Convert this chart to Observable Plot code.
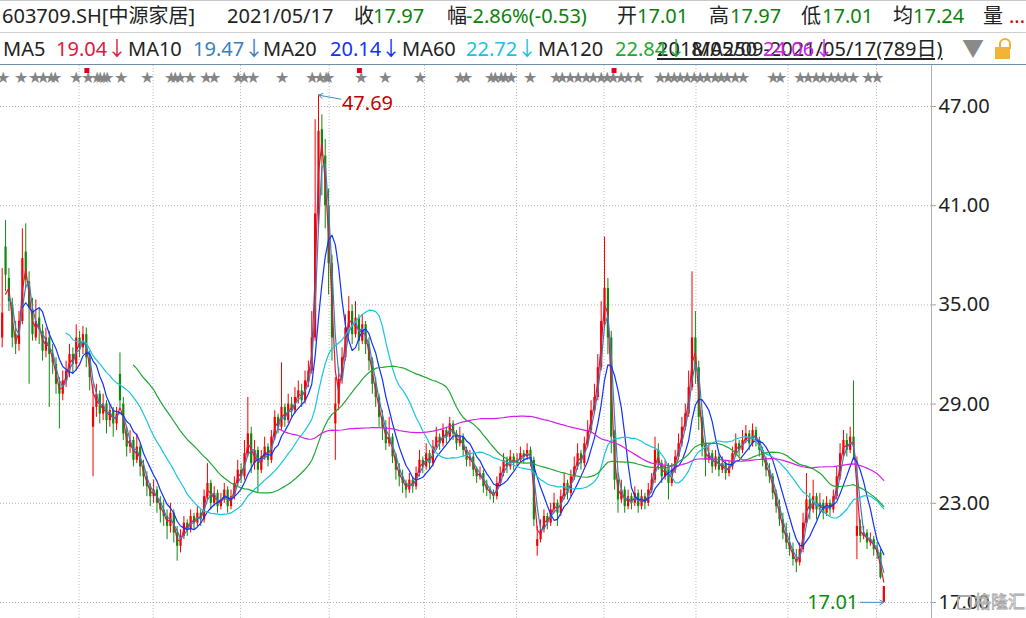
<!DOCTYPE html>
<html><head><meta charset="utf-8">
<script src="https://cdn.jsdelivr.net/npm/d3@7"></script>
<script src="https://cdn.jsdelivr.net/npm/@observablehq/plot@0.6"></script>
<style>
body{margin:0;background:#fff;width:1026px;height:618px;overflow:hidden;position:relative;font-family:"Noto Sans","Noto Sans CJK SC",sans-serif;}
.t{position:absolute;white-space:nowrap;font-size:20px;line-height:20px;color:#222;}
.hl{position:absolute;left:0;width:1026px;height:1px;}
#chart{position:absolute;left:0;top:65px;}
#wm{position:absolute;left:957px;top:592px;font-size:17px;line-height:18px;color:rgba(255,255,255,0.45);-webkit-text-stroke:0.8px #a8a8a8;font-family:"Noto Sans CJK SC",sans-serif;white-space:nowrap;}
#wm .ic{display:inline-block;width:11px;height:11px;border:2px solid #aaa;border-radius:3px;vertical-align:-2px;margin-right:2px;}
</style></head><body>
<div id="hdr"></div>
<div id="chart"></div>
<div id="wm"><span class="ic"></span>格隆汇</div>
<script>
// ---------- data (3-trading-day bars, 2018/05/09 – 2021/05/17) ----------
const opens = [
33.0,38.5,36.6,35.0,33.2,32.6,34.0,38.2,36.4,34.6,
33.0,34.2,33.4,32.2,33.0,32.0,31.4,30.2,29.6,30.4,
31.0,32.0,31.4,33.0,32.4,33.2,31.8,27.6,28.8,29.6,
28.4,29.0,28.0,28.6,27.8,30.8,29.0,27.2,26.4,26.8,
25.6,26.4,25.2,24.6,24.0,23.4,23.8,23.0,22.6,22.2,
21.6,22.4,21.2,20.4,21.0,21.8,21.4,22.2,21.8,22.4,
22.0,23.4,24.2,23.0,23.6,22.8,23.2,23.8,22.8,23.4,
24.2,25.0,24.6,26.0,27.2,25.4,26.2,25.0,25.8,26.4,
25.6,27.0,28.2,27.6,28.8,28.0,29.0,28.6,29.4,29.8,
29.2,30.4,31.0,33.0,40.5,45.6,44.0,41.0,37.5,27.8,
29.0,30.5,31.8,33.6,34.6,33.2,34.2,32.8,33.8,32.6,
31.6,30.2,29.4,28.2,27.6,26.6,27.0,25.8,25.0,24.6,
24.2,23.8,24.4,24.0,24.8,25.6,25.2,26.0,25.4,26.4,
27.0,26.6,27.4,27.0,27.8,27.2,26.6,27.0,26.2,25.6,
25.8,25.0,24.6,24.8,24.0,23.8,23.6,23.4,24.2,24.8,
25.6,25.2,25.8,25.4,25.6,26.0,25.8,26.2,25.6,20.4,
20.8,21.4,22.2,21.8,22.6,23.0,22.4,23.4,24.2,23.6,
24.6,25.2,26.0,25.4,26.6,27.4,28.6,29.4,31.2,34.0,
36.0,33.0,27.0,24.4,23.2,23.8,22.8,23.4,23.0,23.6,
22.8,23.4,23.0,23.8,24.4,26.2,25.4,24.6,25.2,24.2,
25.0,25.8,26.6,27.6,28.4,30.0,33.0,31.2,28.2,26.4,
25.6,26.0,25.2,25.8,25.0,25.4,24.8,25.2,26.0,26.6,
26.2,26.8,27.2,26.6,27.4,26.8,26.2,25.6,25.0,24.6,
23.6,22.8,22.0,21.2,20.6,20.2,19.6,19.4,20.2,21.8,
23.2,22.6,23.4,22.6,23.0,22.4,23.0,22.6,23.4,24.6,
26.0,26.8,26.2,27.0,21.0,21.6,21.0,21.2,20.6,20.8,
20.2,20.0,17.01];
const highs = [
37.2,40.1,37.2,35.4,34.0,34.6,39.6,39.9,37.0,35.4,
35.3,34.8,33.8,33.6,33.4,32.6,31.8,30.6,31.0,31.6,
32.6,32.4,33.8,33.4,33.7,33.6,32.2,30.2,30.2,29.8,
29.6,29.2,29.0,28.8,28.8,32.1,29.4,27.6,27.4,27.0,
27.2,26.6,25.6,24.9,24.2,24.4,24.0,23.4,23.2,22.6,
23.0,22.6,21.6,21.4,22.2,22.0,22.6,22.4,22.8,22.6,
23.8,25.4,24.4,24.0,23.8,23.6,24.2,24.0,23.8,24.6,
25.6,25.4,26.8,29.4,27.6,26.8,26.4,26.2,27.0,26.6,
27.4,28.6,28.4,31.5,29.0,29.6,29.4,30.0,30.4,30.2,
31.0,31.6,34.6,46.2,47.69,46.5,45.0,42.0,38.0,30.6,
31.2,32.4,34.4,35.5,35.0,35.2,34.4,34.4,34.0,33.0,
31.8,30.6,29.6,28.6,28.0,28.2,27.2,26.0,25.4,25.0,
24.4,24.8,24.6,25.2,26.2,25.8,26.6,26.2,26.8,27.6,
27.2,27.8,27.6,28.2,28.0,27.4,27.6,27.2,26.4,26.2,
26.0,25.2,25.2,25.0,24.4,24.0,23.8,24.6,25.2,26.0,
25.8,26.2,26.0,26.0,26.4,26.2,26.6,26.4,25.8,21.6,
22.0,22.6,22.4,23.0,23.6,23.2,23.8,24.8,24.4,25.0,
25.8,26.6,26.2,27.0,28.0,29.2,30.2,32.0,35.2,39.1,
36.6,33.4,27.4,24.8,24.4,24.0,23.8,23.6,24.0,23.8,
23.8,23.6,24.2,24.8,27.0,26.6,25.6,25.6,25.4,25.4,
26.2,27.2,28.2,29.0,31.0,37.0,34.6,31.6,28.6,26.8,
26.6,26.2,26.2,26.0,25.8,25.6,25.6,26.4,27.2,26.8,
27.4,27.7,27.4,27.8,27.6,27.0,26.4,25.8,25.4,24.8,
23.8,23.2,22.4,21.8,21.2,20.6,20.2,20.6,22.4,24.8,
23.6,24.4,23.6,23.6,23.2,23.4,23.2,23.8,25.2,26.6,
27.4,27.2,27.6,30.4,25.8,22.0,21.6,21.4,21.2,21.0,
20.6,20.2,17.97];
const lows = [
32.4,35.8,34.6,32.4,32.0,32.2,33.8,36.0,30.2,32.8,
32.8,32.6,31.6,31.8,28.8,30.8,29.6,27.5,29.2,30.0,
30.6,30.8,31.0,31.8,32.0,31.2,29.8,24.6,28.2,27.8,
28.0,27.2,27.6,27.0,27.4,28.8,26.8,25.8,26.0,25.2,
25.4,24.6,24.0,23.4,22.8,23.0,22.4,21.8,21.6,20.8,
21.2,20.6,19.5,20.0,20.8,21.0,21.2,21.4,21.6,21.6,
21.8,23.2,22.6,22.8,22.4,22.6,23.0,22.4,22.6,23.2,
24.0,24.2,24.4,25.8,24.8,25.0,23.6,24.8,25.6,25.2,
25.4,26.8,27.2,27.4,27.6,27.8,28.2,28.4,29.0,28.8,
29.0,30.0,30.8,32.8,39.8,41.6,39.6,35.6,31.6,25.6,
28.6,30.2,31.6,33.2,32.6,33.0,32.2,32.6,32.0,31.0,
29.6,28.8,27.6,26.8,26.2,26.4,25.4,24.4,24.0,23.6,
23.3,23.6,23.6,23.8,24.6,24.8,25.0,25.0,25.2,26.2,
26.2,26.4,26.6,26.8,26.8,26.2,26.4,25.8,25.2,25.2,
24.6,24.2,24.4,23.6,23.4,23.2,23.0,23.2,24.0,24.6,
24.8,25.0,25.0,25.2,25.4,25.4,25.6,25.2,21.6,19.8,
20.6,21.2,21.4,21.6,22.4,21.6,22.2,23.2,23.2,23.4,
24.4,25.0,25.0,25.2,26.4,27.2,28.4,29.2,31.0,33.6,
32.0,26.0,23.8,22.4,23.0,22.4,22.6,22.6,22.8,22.4,
22.6,22.6,22.8,23.6,24.2,25.0,24.2,24.4,23.2,24.0,
24.8,25.6,26.4,27.4,28.2,29.8,30.2,27.4,25.8,24.6,
25.4,24.8,25.0,24.6,24.8,24.4,24.6,25.0,25.8,25.8,
26.0,26.6,26.2,26.4,26.4,25.8,25.2,24.6,24.2,23.2,
22.4,21.6,20.8,20.2,19.8,19.2,18.8,19.2,20.0,21.6,
22.0,22.4,22.0,22.4,22.0,22.2,22.2,22.4,23.2,24.4,
25.8,25.8,26.0,25.6,19.6,20.6,20.8,20.2,20.4,19.8,
19.6,18.4,17.01];
const closes = [
34.5,36.8,35.2,33.0,32.6,34.0,37.8,36.5,34.8,33.2,
34.0,33.5,32.2,33.0,32.0,31.5,30.2,29.6,30.4,31.0,
32.0,31.4,33.0,32.4,33.2,31.8,30.6,28.8,29.6,28.4,
29.0,28.0,28.6,27.8,28.4,29.2,27.2,26.4,26.8,25.6,
26.4,25.2,24.6,24.0,23.4,23.8,23.0,22.6,22.2,21.6,
22.4,21.2,20.4,21.0,21.8,21.4,22.2,21.8,22.4,22.0,
23.4,24.2,23.0,23.6,22.8,23.2,23.8,22.8,23.4,24.2,
25.0,24.6,26.0,27.2,25.4,26.2,25.0,25.8,26.4,25.6,
27.0,28.2,27.6,28.8,28.0,29.0,28.6,29.4,29.8,29.2,
30.4,31.0,33.0,40.5,45.5,44.0,41.0,37.5,33.0,29.0,
30.5,31.8,33.6,34.6,33.2,34.2,32.8,33.8,32.6,31.6,
30.2,29.4,28.2,27.6,26.6,27.0,25.8,25.0,24.6,24.2,
23.8,24.4,24.0,24.8,25.6,25.2,26.0,25.4,26.4,27.0,
26.6,27.4,27.0,27.8,27.2,26.6,27.0,26.2,25.6,25.8,
25.0,24.6,24.8,24.0,23.8,23.6,23.4,24.2,24.8,25.6,
25.2,25.8,25.4,25.6,26.0,25.8,26.2,25.6,22.0,20.8,
21.4,22.2,21.8,22.6,23.0,22.4,23.4,24.2,23.6,24.6,
25.2,26.0,25.4,26.6,27.4,28.6,29.4,31.2,34.0,36.0,
33.0,27.0,24.4,23.2,23.8,22.8,23.4,23.0,23.6,22.8,
23.4,23.0,23.8,24.4,26.2,25.4,24.6,25.2,24.2,25.0,
25.8,26.6,27.6,28.4,30.0,33.0,31.2,28.2,26.4,25.6,
26.0,25.2,25.8,25.0,25.4,24.8,25.2,26.0,26.6,26.2,
26.8,27.2,26.6,27.4,26.8,26.2,25.6,25.0,24.6,23.6,
22.8,22.0,21.2,20.6,20.2,19.6,19.4,20.2,21.8,23.2,
22.6,23.4,22.6,23.0,22.4,23.0,22.6,23.4,24.6,26.0,
26.8,26.2,27.0,26.4,21.6,21.0,21.2,20.6,20.8,20.2,
20.0,18.5,17.97];

const yTicks = [17, 23, 29, 35, 41, 47];
// information markers (trading-day index)
const starDays = [2,18,31,38,45,49,67,78,86,89,92,95,107,131,152,156,160,169,183,190,212,217,225,251,278,285,290,292,321,343,374,410,415,437,441,446,450,455,472,495,501,508,515,522,528,535,541,546,553,559,568,588,595,600,606,612,618,624,630,637,642,648,655,662,689,695,713,720,727,733,740,747,753,760,773,781];
const flagDays = [77, 320, 547];
const gridDays = [70, 136, 214, 293, 378, 460, 538, 620, 702, 781];

const maNames = ["MA5","MA10","MA20","MA60","MA120","MA250"];
const maValues = ["19.04","19.47","20.14","22.72","22.84","24.06"];
const maDays = [5, 10, 20, 60, 120, 250];
const maColors = ["#e0183c","#3a80b8","#1030ff","#18c4e0","#22a832","#d020e8"];

const quoteLabels = ["收","幅","开","高","低","均"];
const quoteValues = ["17.97","-2.86%(-0.53)","17.01","17.97","17.01","17.24"];
const stockName = "603709.SH[中源家居]";
const quoteDate = "2021/05/17";
const rangeText = "2018/05/09-2021/05/17(789日)";

// ---------- header (HTML) ----------
const hdr = document.getElementById("hdr");
function put(txt, x, y, color, extra) {
  const s = document.createElement("div");
  s.className = "t"; s.textContent = txt;
  s.style.left = x + "px"; s.style.top = y + "px";
  if (color) s.style.color = color;
  if (extra) Object.assign(s.style, extra);
  hdr.appendChild(s); return s;
}
function line(y, c) { const d = document.createElement("div"); d.className = "hl"; d.style.top = y + "px"; d.style.background = c; hdr.appendChild(d); }
line(0, "#c8c8c8"); line(32, "#cfcfcf"); line(64, "#6f8fa6");
const R1 = 6, R2 = 39;
put(stockName, 2, R1);
put(quoteDate, 227, R1);
const qLabX = [354, 447, 617, 709, 801, 893];
const qValX = [373, 466, 637, 730, 822, 913];
quoteLabels.forEach((l, i) => { put(l, qLabX[i], R1); put(quoteValues[i], qValX[i], R1, "#0a820a"); });
put("量", 983, R1); put("...", 1009, R1, "#e00000");
const maLabX = [3, 128, 263, 402, 538, 692];
const maValX = [56, 193, 330, 466, 615, 763];
put(rangeText, 657, R2, "#222", {textDecoration: "underline", textUnderlineOffset: "2px"});
maNames.forEach((n, i) => { put(n, maLabX[i], R2); put(maValues[i] + "↓", maValX[i], R2, maColors[i]); });
put("▼", 962, R2 - 2, "#8a8a8a", {fontSize: "22px"});
// lock icon
const lk = document.createElement("div");
Object.assign(lk.style, {position:"absolute", left:"999px", top:"38px", width:"8px", height:"9px", border:"2px solid #f0b030", borderBottom:"none", borderRadius:"6px 6px 0 0"});
hdr.appendChild(lk);
const lb = document.createElement("div");
Object.assign(lb.style, {position:"absolute", left:"995px", top:"47px", width:"15px", height:"12px", background:"#f3b33a"});
hdr.appendChild(lb);

// ---------- chart ----------
const bars = closes.map((c, i) => ({day: 3 * i + 1.5, open: opens[i], high: highs[i], low: lows[i], close: c}));
const up = bars.filter(d => d.close >= d.open);
const down = bars.filter(d => d.close < d.open);
const peak = bars.reduce((a, b) => (b.high > a.high ? b : a));
const trough = bars.reduce((a, b) => (b.low < a.low ? b : a));
const RED = "#f40000", GREEN = "#0d8a0d";

const maMarks = maDays.map((d, i) => Plot.lineY(bars, Plot.windowY(
  {k: Math.max(2, Math.round(d / 3)), anchor: "end", strict: true, reduce: "mean"},
  {x: "day", y: "close", stroke: maColors[i], strokeWidth: 1.2})));

const chart = Plot.plot({
  width: 1026, height: 553,
  marginLeft: 0, marginRight: 95, marginTop: 0, marginBottom: 0,
  style: {fontFamily: '"Noto Sans", sans-serif', background: "transparent", overflow: "visible"},
  x: {domain: [0, 830], axis: null},
  y: {domain: [17, 47], range: [537, 41], axis: null},
  marks: [
    Plot.ruleY(yTicks, {stroke: "#b4b4b4", strokeDasharray: "1,2"}),
    Plot.ruleX(gridDays, {stroke: "#b8b8b8", strokeDasharray: "1,2"}),
    Plot.ruleX([830], {stroke: "#b0b0b0"}),
    Plot.axisY(yTicks, {anchor: "right", tickSize: 4, tickPadding: 3, tickFormat: d => d.toFixed(2), fontSize: 20, fill: "#222", stroke: "#a0a0a0", label: null}),
    Plot.text(starDays, {x: d => d, frameAnchor: "top", dy: 6, text: () => "★", fill: "#858585", fontSize: 16}),
    Plot.dot(flagDays, {x: d => d, frameAnchor: "top", dy: 5, symbol: "square", fill: "#e00020", r: 2.8}),
    Plot.ruleX(up, {x: "day", y1: "low", y2: "high", stroke: RED, strokeWidth: 1}),
    Plot.ruleX(down, {x: "day", y1: "low", y2: "high", stroke: GREEN, strokeWidth: 1}),
    Plot.ruleX(up, {x: "day", y1: "open", y2: "close", stroke: RED, strokeWidth: 2.2}),
    Plot.ruleX(down, {x: "day", y1: "open", y2: "close", stroke: GREEN, strokeWidth: 2.2}),
    ...maMarks,
    Plot.arrow([peak], {x1: d => d.day + 20, y1: d => d.high - 0.25, x2: "day", y2: "high", stroke: "#3c8fc0", strokeWidth: 1, headLength: 7, inset: 0}),
    Plot.text([peak], {x: d => d.day + 20, y: d => d.high - 0.5, text: d => d.high.toFixed(2), textAnchor: "start", dx: 1, fill: "#c40000", fontSize: 20}),
    Plot.arrow([trough], {x1: d => d.day - 21, y1: "low", x2: "day", y2: "low", stroke: "#3c8fc0", strokeWidth: 1, headLength: 7, inset: 0}),
    Plot.text([trough], {x: d => d.day - 21, y: "low", text: d => d.low.toFixed(2), textAnchor: "end", dx: -2, fill: "#0d8a0d", fontSize: 20})
  ]
});
document.getElementById("chart").appendChild(chart);
</script>
</body></html>
